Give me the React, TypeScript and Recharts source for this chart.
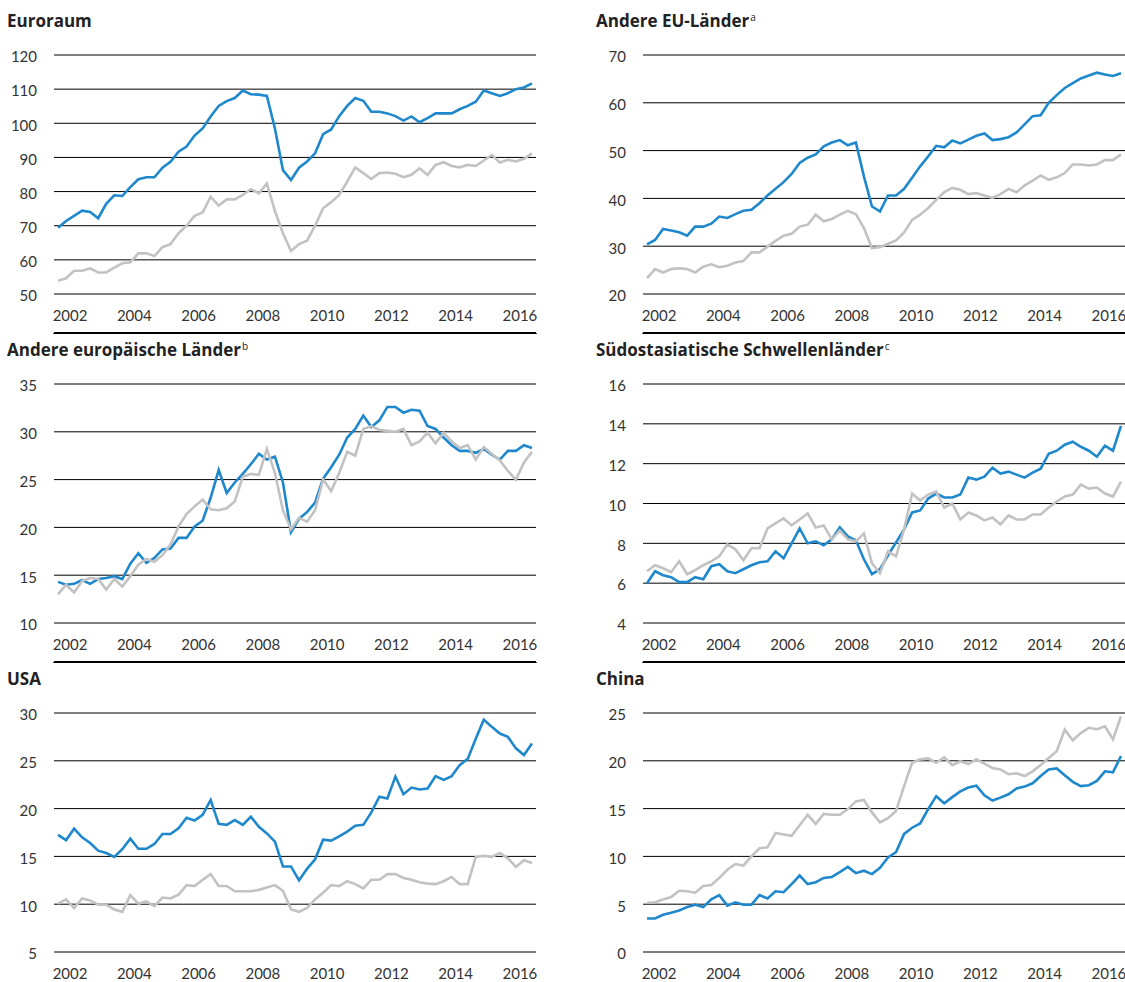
import React from 'react';
import { LineChart, Line, XAxis, YAxis, CartesianGrid } from 'recharts';

const TICK_FONT = "'Source Sans Pro', Lato, 'Noto Sans', sans-serif";
const TITLE_FONT = "'Source Sans Pro', 'Open Sans', 'Noto Sans', sans-serif";

// Quarterly observations 2002Q1 .. 2016Q4 (placed at mid-quarter)
const quarterYears = [2002, 2003, 2004, 2005, 2006, 2007, 2008, 2009, 2010, 2011, 2012, 2013, 2014, 2015, 2016];
const quarterNumbers = [1, 2, 3, 4];
const quarters: number[] = [];
quarterYears.forEach((y) => quarterNumbers.forEach((q) => quarters.push(y + (q - 0.5) / 4)));

const yearTicks = [2002, 2003, 2004, 2005, 2006, 2007, 2008, 2009, 2010, 2011, 2012, 2013, 2014, 2015, 2016, 2017];
const yearLabelTicks = [2002.5, 2004.5, 2006.5, 2008.5, 2010.5, 2012.5, 2014.5, 2016.5];

const euroBlue = [69.4,71.4,72.9,74.4,74.0,72.2,76.4,78.9,78.7,81.3, 83.6,84.2,84.2,87.0,88.7,91.7,93.2,96.4,98.5,102.0, 105.1,106.5,107.4,109.6,108.5,108.4,108.0,98.5,86.3,83.4, 87.0,88.8,91.2,96.8,98.2,102.1,105.1,107.4,106.6,103.4, 103.4,102.9,102.1,100.8,102.0,100.3,101.5,102.9,102.9,102.9, 104.1,105.1,106.3,109.6,108.8,108.0,108.8,110.0,110.5,111.7];
const euroGray = [53.9,54.6,56.8,56.8,57.5,56.3,56.3,57.7,59.0,59.3, 61.9,61.9,61.1,63.7,64.6,67.8,70.0,72.9,73.9,78.5, 75.9,77.7,77.7,79.0,80.7,79.5,82.4,74.3,67.8,62.6, 64.6,65.6,70.0,75.1,76.9,79.0,82.9,87.1,85.4,83.7, 85.4,85.6,85.2,84.2,84.9,86.8,84.9,87.8,88.6,87.5, 87.1,87.8,87.5,89.1,90.7,88.5,89.3,88.8,89.6,91.2];

const euBlue = [30.4,31.3,33.6,33.3,32.9,32.2,34.1,34.1,34.7,36.2, 35.9,36.7,37.4,37.6,39.0,40.6,42.0,43.4,45.1,47.4, 48.5,49.2,50.9,51.7,52.2,51.1,51.7,44.6,38.3,37.3, 40.6,40.6,42.0,44.3,46.7,48.8,51.0,50.7,52.1,51.5, 52.3,53.1,53.6,52.2,52.4,52.8,53.8,55.5,57.2,57.4, 60.0,61.6,63.1,64.1,65.1,65.7,66.3,65.9,65.6,66.2];
const euGray = [23.3,25.2,24.5,25.2,25.4,25.2,24.5,25.7,26.2,25.6, 25.9,26.6,26.9,28.7,28.7,29.9,31.1,32.2,32.6,34.1, 34.5,36.6,35.2,35.7,36.6,37.4,36.7,33.8,29.6,29.8, 30.5,31.2,32.9,35.5,36.6,38.0,39.7,41.3,42.2,41.8, 40.9,41.1,40.6,40.1,40.9,42.0,41.3,42.7,43.7,44.8, 43.9,44.4,45.3,47.1,47.1,46.9,47.1,48.0,48.0,49.2];

const europBlue = [14.3,14.0,14.1,14.5,14.1,14.6,14.7,14.9,14.6,16.2, 17.3,16.3,16.8,17.7,17.8,18.9,18.9,20.1,20.7,23.1, 26.0,23.6,24.7,25.6,26.6,27.7,27.1,27.4,24.7,19.5, 20.9,21.6,22.6,25.1,26.3,27.6,29.4,30.3,31.7,30.5, 31.2,32.6,32.6,32.0,32.3,32.2,30.6,30.3,29.4,28.6, 28.0,28.0,27.8,28.2,27.6,27.1,28.0,28.0,28.6,28.3];
const europGray = [13.0,14.0,13.2,14.4,14.7,14.6,13.5,14.6,13.8,14.9, 16.1,16.7,16.4,17.1,18.2,20.1,21.4,22.2,22.9,21.9, 21.8,22.0,22.7,25.3,25.6,25.5,28.2,25.7,21.8,19.8, 21.0,20.6,21.8,25.0,23.8,25.7,27.9,27.5,30.3,30.6, 30.2,30.1,30.0,30.3,28.6,29.0,29.9,28.8,29.9,29.0, 28.3,28.6,27.1,28.4,27.7,27.0,25.9,25.0,26.8,27.9];

const seaBlue = [6.0,6.6,6.4,6.3,6.05,6.05,6.3,6.2,6.85,6.95, 6.6,6.5,6.7,6.9,7.05,7.1,7.6,7.25,8.0,8.75, 8.0,8.1,7.9,8.2,8.8,8.35,8.15,7.2,6.45,6.7, 7.4,8.05,8.7,9.55,9.65,10.25,10.5,10.3,10.3,10.45, 11.3,11.2,11.35,11.8,11.5,11.6,11.45,11.3,11.55,11.75, 12.5,12.65,12.95,13.1,12.85,12.65,12.35,12.9,12.65,13.9];
const seaGray = [6.6,6.9,6.75,6.55,7.1,6.45,6.65,6.9,7.1,7.35, 7.95,7.7,7.15,7.75,7.75,8.75,9.0,9.25,8.9,9.2, 9.5,8.8,8.9,8.2,8.65,8.2,8.1,8.5,7.0,6.5, 7.6,7.35,8.7,10.5,10.15,10.45,10.6,9.8,10.0,9.2, 9.55,9.4,9.15,9.3,8.95,9.4,9.2,9.2,9.45,9.45, 9.8,10.1,10.35,10.45,10.95,10.75,10.8,10.5,10.35,11.1];

const usBlue = [17.25,16.7,17.9,17.0,16.4,15.6,15.35,14.95,15.75,16.85, 15.8,15.8,16.3,17.35,17.35,17.95,19.05,18.75,19.35,20.9, 18.4,18.3,18.8,18.3,19.15,18.1,17.4,16.55,13.95,13.95, 12.5,13.7,14.7,16.75,16.65,17.1,17.6,18.2,18.3,19.6, 21.25,21.05,23.35,21.5,22.2,22.0,22.1,23.4,23.0,23.4, 24.55,25.2,27.3,29.3,28.55,27.85,27.5,26.3,25.6,26.8];
const usGray = [10.05,10.5,9.6,10.6,10.4,9.95,9.95,9.45,9.2,10.95, 10.05,10.3,9.8,10.7,10.6,11.0,12.0,11.9,12.55,13.15, 11.9,11.9,11.35,11.35,11.35,11.5,11.75,12.0,11.4,9.45, 9.2,9.6,10.5,11.2,12.0,11.9,12.4,12.1,11.65,12.55, 12.55,13.15,13.15,12.75,12.55,12.3,12.15,12.1,12.4,12.85, 12.1,12.1,14.95,15.05,14.95,15.35,14.8,13.9,14.6,14.3];

const cnBlue = [3.5,3.5,3.9,4.1,4.35,4.7,4.95,4.7,5.5,5.95, 4.85,5.2,4.95,4.95,5.95,5.6,6.35,6.25,7.1,8.0, 7.1,7.3,7.75,7.85,8.35,8.9,8.25,8.5,8.15,8.8, 9.9,10.45,12.35,13.0,13.45,14.95,16.3,15.55,16.2,16.8, 17.2,17.4,16.4,15.85,16.15,16.5,17.1,17.3,17.65,18.4, 19.1,19.2,18.5,17.8,17.35,17.45,17.9,18.9,18.8,20.5];
const cnGray = [5.15,5.2,5.5,5.75,6.4,6.35,6.2,6.9,7.0,7.75, 8.6,9.2,9.05,10.0,10.85,10.95,12.45,12.3,12.15,13.25, 14.35,13.4,14.45,14.35,14.35,14.95,15.75,15.9,14.6,13.55, 14.0,14.75,17.35,19.8,20.15,20.25,19.8,20.35,19.55,19.95, 19.65,20.15,19.7,19.25,19.1,18.6,18.7,18.4,18.9,19.55, 20.3,21.0,23.25,22.15,22.9,23.45,23.3,23.6,22.25,24.65];

const euroTicks = [50, 60, 70, 80, 90, 100, 110, 120];
const euTicks = [20, 30, 40, 50, 60, 70];
const europTicks = [10, 15, 20, 25, 30, 35];
const seaTicks = [4, 6, 8, 10, 12, 14, 16];
const usTicks = [5, 10, 15, 20, 25, 30];
const cnTicks = [0, 5, 10, 15, 20, 25];

const BLUE = '#1f88cc';
const GRAY = '#c2c2c2';

type PanelProps = {
  title: string;
  sup?: string;
  blue: number[];
  gray: number[];
  yTicks: number[];
  left: number;
  top: number;
};

function Panel({ title, sup, blue, gray, yTicks, left, top }: PanelProps) {
  const data = quarters.map((q, i) => ({ q, blue: blue[i], gray: gray[i] }));
  const tickStyle = { fill: '#333', fontSize: 15, fontFamily: TICK_FONT };
  return (
    <>
      <div
        style={{
          position: 'absolute',
          left: left + 7,
          top: top - 43,
          fontFamily: TITLE_FONT,
          fontWeight: 700,
          fontSize: 17,
          lineHeight: '17px',
          color: '#222',
          whiteSpace: 'nowrap',
        }}
      >
        {title}
        {sup && (
          <span style={{ fontSize: 10, fontWeight: 400, position: 'relative', top: -6, marginLeft: 1 }}>{sup}</span>
        )}
      </div>
      <div style={{ position: 'absolute', left, top: top - 10 }}>
        <LineChart width={560} height={289} data={data} margin={{ top: 10, right: 24, bottom: 0, left: 0 }}>
          <CartesianGrid xAxisId="t" horizontal vertical={false} stroke="#000" strokeWidth={1} />
          <XAxis
            xAxisId="t"
            dataKey="q"
            type="number"
            domain={[2002, 2017]}
            ticks={yearTicks}
            interval={0}
            height={1}
            axisLine={{ stroke: '#000', strokeWidth: 2 }}
            tickLine={{ stroke: '#000', strokeWidth: 1.5 }}
            tickSize={6}
            tickFormatter={() => ''}
          />
          <XAxis
            xAxisId="l"
            dataKey="q"
            type="number"
            domain={[2002, 2017]}
            ticks={yearLabelTicks}
            interval={0}
            height={39}
            axisLine={false}
            tickLine={false}
            tickSize={0}
            tickMargin={16}
            tickFormatter={(v: number) => String(Math.floor(v))}
            tick={tickStyle}
          />
          <YAxis
            type="number"
            domain={[yTicks[0], yTicks[yTicks.length - 1]]}
            ticks={yTicks}
            interval={0}
            width={54}
            axisLine={false}
            tickLine={false}
            tickSize={0}
            tickMargin={17}
            tick={{ ...tickStyle, dy: 2 }}
          />
          <Line xAxisId="t" type="linear" dataKey="blue" stroke={BLUE} strokeWidth={2.6} dot={false} isAnimationActive={false} />
          <Line xAxisId="t" type="linear" dataKey="gray" stroke={GRAY} strokeWidth={2.6} dot={false} isAnimationActive={false} />
        </LineChart>
      </div>
    </>
  );
}

export default function App() {
  return (
    <div
      style={{
        position: 'fixed',
        left: 0,
        top: 0,
        width: 1125,
        height: 982,
        overflow: 'hidden',
        background: '#fff',
      }}
    >
      <Panel title="Euroraum" blue={euroBlue} gray={euroGray} yTicks={euroTicks} left={0} top={55} />
      <Panel title="Andere EU-Länder" sup="a" blue={euBlue} gray={euGray} yTicks={euTicks} left={589} top={55} />
      <Panel title="Andere europäische Länder" sup="b" blue={europBlue} gray={europGray} yTicks={europTicks} left={0} top={384} />
      <Panel title="Südostasiatische Schwellenländer" sup="c" blue={seaBlue} gray={seaGray} yTicks={seaTicks} left={589} top={384} />
      <Panel title="USA" blue={usBlue} gray={usGray} yTicks={usTicks} left={0} top={713} />
      <Panel title="China" blue={cnBlue} gray={cnGray} yTicks={cnTicks} left={589} top={713} />
    </div>
  );
}
